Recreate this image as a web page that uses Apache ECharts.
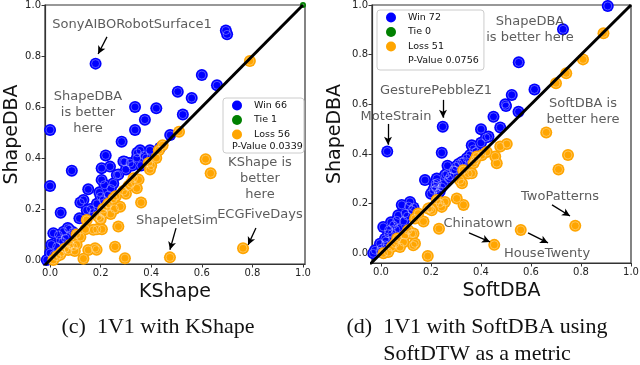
<!DOCTYPE html>
<html>
<head>
<meta charset="utf-8">
<script src="https://cdn.jsdelivr.net/npm/echarts@6/dist/echarts.min.js"></script>
<style>
  html, body { margin: 0; padding: 0; background: #fff; }
  #chart { width: 640px; height: 365px; }
</style>
</head>
<body>
<div id="chart"></div>
<script>
// tick labels shared by all four axes
const tickValues = [0, 0.2, 0.4, 0.6, 0.8, 1.0];

// (c) KShape (x) vs ShapeDBA (y)
const kshapeWin = [
  [0.18, 0.77], [0.695, 0.90], [0.70, 0.885], [0.0, 0.51], [0.0, 0.29], [0.60, 0.725],
  [0.66, 0.685], [0.505, 0.66], [0.56, 0.635], [0.525, 0.57], [0.336, 0.60], [0.42, 0.595],
  [0.375, 0.55], [0.336, 0.51], [0.283, 0.464], [0.475, 0.49], [0.435, 0.44], [0.22, 0.41],
  [0.086, 0.35], [0.204, 0.36], [0.237, 0.366], [0.295, 0.385], [0.356, 0.43], [0.395, 0.43],
  [0.343, 0.40], [0.316, 0.38], [0.37, 0.41], [0.36, 0.37], [0.27, 0.335], [0.29, 0.386],
  [0.264, 0.333], [0.204, 0.314], [0.215, 0.295], [0.151, 0.277], [0.132, 0.235], [0.12, 0.225],
  [0.2, 0.25], [0.21, 0.235], [0.185, 0.22], [0.23, 0.255], [0.16, 0.2], [0.17, 0.185],
  [0.042, 0.185], [0.116, 0.163], [0.07, 0.125], [0.075, 0.12], [0.013, 0.105], [0.033, 0.098],
  [0.053, 0.111], [0.04, 0.078], [0.026, 0.052], [0.0, 0.027], [-0.013, 0.0], [0.05, 0.07],
  [0.06, 0.085], [0.015, 0.02], [0.25, 0.30], [0.24, 0.28], [0.30, 0.355], [0.325, 0.37],
  [0.345, 0.42], [0.38, 0.40], [0.195, 0.265], [0.145, 0.195], [0.09, 0.11], [0.005, 0.06]
];
const kshapeTie = [[1.0, 1.0]];
const kshapeLoss = [
  [0.79, 0.78], [0.51, 0.503], [0.615, 0.395], [0.635, 0.34], [0.763, 0.046], [0.474, 0.01],
  [0.42, 0.40], [0.395, 0.355], [0.39, 0.38], [0.35, 0.315], [0.343, 0.281], [0.36, 0.225],
  [0.29, 0.27], [0.277, 0.209], [0.27, 0.131], [0.257, 0.052], [0.296, 0.007], [0.24, 0.18],
  [0.21, 0.2], [0.2, 0.16], [0.185, 0.12], [0.205, 0.12], [0.224, 0.209], [0.211, 0.183],
  [0.198, 0.163], [0.171, 0.118], [0.184, 0.04], [0.151, 0.039], [0.178, 0.046], [0.132, 0.005],
  [0.092, 0.052], [0.072, 0.039], [0.04, 0.02], [0.026, 0.013], [0.105, 0.06], [0.105, 0.10],
  [0.06, 0.045], [0.145, 0.157], [0.013, 0.0], [0.40, 0.37], [0.43, 0.43], [0.445, 0.45],
  [0.30, 0.26], [0.31, 0.29], [0.32, 0.30], [0.25, 0.24], [0.23, 0.22], [0.26, 0.25],
  [0.12, 0.09], [0.08, 0.06], [0.14, 0.12], [0.045, 0.03], [0.255, 0.20], [0.19, 0.17],
  [0.33, 0.32], [0.098, 0.035]
];

// (d) SoftDBA (x) vs ShapeDBA (y)
const softWin = [
  [0.907, 0.996], [0.728, 0.902], [0.551, 0.769], [0.614, 0.66], [0.523, 0.638], [0.497, 0.60],
  [0.50, 0.593], [0.55, 0.57], [0.025, 0.41], [0.247, 0.51], [0.243, 0.405], [0.45, 0.55],
  [0.477, 0.507], [0.40, 0.50], [0.42, 0.466], [0.363, 0.435], [0.356, 0.396], [0.343, 0.383],
  [0.323, 0.368], [0.266, 0.353], [0.176, 0.295], [0.296, 0.335], [0.256, 0.315], [0.223, 0.301],
  [0.216, 0.281], [0.209, 0.254], [0.229, 0.241], [0.243, 0.267], [0.263, 0.32], [0.276, 0.31],
  [0.29, 0.336], [0.30, 0.35], [0.22, 0.26], [0.215, 0.27], [0.083, 0.195], [0.116, 0.207],
  [0.123, 0.175], [0.096, 0.161], [0.069, 0.153], [0.063, 0.133], [0.05, 0.114], [0.043, 0.08],
  [0.016, 0.034], [-0.004, 0.007], [0.03, 0.094], [0.063, 0.054], [0.009, 0.106], [0.029, 0.079],
  [0.016, 0.059], [-0.004, 0.039], [-0.024, 0.012], [-0.031, 0.0], [0.04, 0.125], [0.06, 0.095],
  [0.11, 0.19], [0.13, 0.185], [0.20, 0.24], [0.235, 0.25], [0.25, 0.28], [0.31, 0.36],
  [0.33, 0.37], [0.37, 0.42], [0.38, 0.41], [0.40, 0.445], [0.43, 0.47], [0.07, 0.10],
  [0.02, 0.05], [0.0, 0.02], [0.09, 0.13], [0.105, 0.15], [0.27, 0.30], [0.225, 0.285]
];
const softTie = [];
const softLoss = [
  [0.89, 0.886], [0.808, 0.781], [0.741, 0.725], [0.70, 0.685], [0.661, 0.487], [0.748, 0.396],
  [0.71, 0.338], [0.777, 0.111], [0.559, 0.094], [0.453, 0.034], [0.187, -0.011], [0.232, 0.099],
  [0.303, 0.221], [0.33, 0.195], [0.324, 0.282], [0.477, 0.43], [0.503, 0.44], [0.457, 0.39],
  [0.463, 0.363], [0.383, 0.39], [0.37, 0.363], [0.363, 0.322], [0.256, 0.207], [0.223, 0.215],
  [0.236, 0.201], [0.196, 0.181], [0.17, 0.128], [0.13, 0.08], [0.136, 0.04], [0.129, 0.032],
  [0.123, 0.079], [0.096, 0.073], [0.109, 0.093], [0.076, 0.025], [0.056, 0.039], [0.043, 0.025],
  [0.029, 0.005], [0.243, 0.187], [0.203, 0.173], [0.189, 0.18], [0.329, 0.335], [0.349, 0.321],
  [0.316, 0.294], [0.376, 0.375], [0.403, 0.395], [0.423, 0.408], [0.149, 0.16], [0.136, 0.14],
  [0.01, 0.0], [0.065, 0.06], [0.09, 0.045]
];

// annotation texts and arrows (data coordinates of each panel)
const kshapeNotes = [
  { name: 'SonyAIBORobotSurface1', value: [0.324, 0.922] },
  { name: 'ShapeDBA\nis better\nhere', value: [0.15, 0.576] },
  { name: 'KShape is\nbetter\nhere', value: [0.83, 0.318] },
  { name: 'ShapeletSim', value: [0.502, 0.153] },
  { name: 'ECGFiveDays', value: [0.83, 0.176] }
];
const kshapeArrows = [
  [[0.225, 0.875], [0.19, 0.808]],
  [[0.498, 0.125], [0.474, 0.04]],
  [[0.814, 0.125], [0.783, 0.059]]
];
const softNotes = [
  { name: 'ShapeDBA\nis better here', value: [0.596, 0.90] },
  { name: 'GesturePebbleZ1', value: [0.22, 0.654] },
  { name: 'MoteStrain', value: [0.06, 0.55] },
  { name: 'SoftDBA is\nbetter here', value: [0.808, 0.57] },
  { name: 'TwoPatterns', value: [0.716, 0.227] },
  { name: 'Chinatown', value: [0.388, 0.118] },
  { name: 'HouseTwenty', value: [0.664, -0.003] }
];
const softArrows = [
  [[0.248, 0.618], [0.248, 0.546]],
  [[0.028, 0.521], [0.028, 0.437]],
  [[0.684, 0.195], [0.756, 0.15]],
  [[0.352, 0.082], [0.436, 0.046]],
  [[0.588, 0.082], [0.668, 0.042]]
];

const BLUE = '#0000ff';
const GREEN = '#008000';
const ORANGE = '#ffa500';
const SANS = 'DejaVu Sans';

function axis(gridIndex, min, max, name, nameGap) {
  return {
    type: 'value', gridIndex, min, max, name,
    nameLocation: 'middle', nameGap,
    nameTextStyle: { fontSize: 19, color: '#111', fontFamily: SANS },
    axisLine: { show: true, onZero: false, lineStyle: { color: '#333', width: 1.2 } },
    axisTick: { show: true, length: 3.5, customValues: tickValues, lineStyle: { color: '#333' } },
    axisLabel: {
      customValues: tickValues, formatter: v => v.toFixed(1),
      fontSize: 10, color: '#222', fontFamily: SANS, margin: 4
    },
    splitLine: { show: false }
  };
}

function points(name, data, color, idx, size) {
  return [
    { name, type: 'scatter', xAxisIndex: idx, yAxisIndex: idx, data, symbolSize: size,
      itemStyle: { color, opacity: 1 }, z: 2 },
    // thin light ring inside each marker
    { type: 'scatter', xAxisIndex: idx, yAxisIndex: idx, data, symbolSize: size - 4, silent: true,
      itemStyle: { color: 'rgba(0,0,0,0)', borderColor: 'rgba(255,255,255,0.5)', borderWidth: 0.8 }, z: 2 }
  ];
}

function diagonal(idx, lo) {
  return { type: 'line', xAxisIndex: idx, yAxisIndex: idx, data: [[lo, lo], [1, 1]],
    symbol: 'none', clip: true, lineStyle: { color: '#000', width: 3 }, z: 5, silent: true };
}

function notes(idx, data, arrows) {
  return {
    type: 'scatter', xAxisIndex: idx, yAxisIndex: idx, data, symbolSize: 1, silent: true,
    itemStyle: { color: 'rgba(0,0,0,0)' }, z: 6,
    label: { show: true, position: 'inside', formatter: '{b}', fontSize: 13, lineHeight: 16,
      color: '#333', fontFamily: SANS, align: 'center' },
    markLine: {
      silent: true, symbol: ['none', 'arrow'], symbolSize: [6, 8], animation: false,
      lineStyle: { color: '#000', width: 1.3, type: 'solid' }, label: { show: false },
      data: arrows.map(a => [{ coord: a[0] }, { coord: a[1] }])
    }
  };
}

function legendBox(names, left, top, padding) {
  return {
    data: names, orient: 'vertical', left, top, padding, itemGap: 1.5,
    itemWidth: 10, itemHeight: 10, icon: 'circle', selectedMode: false,
    textStyle: { fontSize: 9.5, color: '#111', fontFamily: SANS, lineHeight: 13, padding: [0, 0, 0, 7] },
    backgroundColor: 'rgba(255,255,255,0.85)', borderColor: '#ccc', borderWidth: 1, borderRadius: 3
  };
}

const chart = echarts.init(document.getElementById('chart'), null, { renderer: 'canvas' });
chart.setOption({
  animation: false,
  backgroundColor: '#fff',
  grid: [
    { left: 45, top: 5, width: 260, height: 259, show: true, borderColor: '#333', borderWidth: 1.2, outerBoundsMode: 'none' },
    { left: 372, top: 5, width: 259, height: 258, show: true, borderColor: '#333', borderWidth: 1.2, outerBoundsMode: 'none' }
  ],
  xAxis: [axis(0, -0.02, 1.008, 'KShape', 19), axis(1, -0.036, 1.0, 'SoftDBA', 19)],
  yAxis: [axis(0, -0.016, 1.0, 'ShapeDBA', 21), axis(1, -0.039, 1.0, 'ShapeDBA', 27)],
  legend: [
    legendBox(['Win 66', 'Tie 1', 'Loss 56'], 223, 98, [1, 14, 12, 9]),
    legendBox(['Win 72', 'Tie 0', 'Loss 51'], 377, 10, [1, 40, 17, 9])
  ],
  series: [
    ...points('Win 66', kshapeWin, BLUE, 0, 12),
    ...points('Tie 1', kshapeTie, GREEN, 0, 6),
    ...points('Loss 56', kshapeLoss, ORANGE, 0, 12),
    diagonal(0, -0.03),
    notes(0, kshapeNotes, kshapeArrows),
    ...points('Win 72', softWin, BLUE, 1, 12),
    ...points('Tie 0', softTie, GREEN, 1, 12),
    ...points('Loss 51', softLoss, ORANGE, 1, 12),
    diagonal(1, -0.05),
    notes(1, softNotes, softArrows)
  ],
  graphic: [
    { type: 'text', x: 232, y: 147, z: 10,
      style: { text: 'P-Value 0.0339', fontSize: 9.5, fontFamily: SANS, fill: '#111', verticalAlign: 'middle' } },
    { type: 'text', x: 408, y: 61, z: 10,
      style: { text: 'P-Value 0.0756', fontSize: 9.5, fontFamily: SANS, fill: '#111', verticalAlign: 'middle' } },
    { type: 'text', x: 158, y: 327,
      style: { text: '(c)  1V1 with KShape', fontSize: 22, fontFamily: 'Liberation Serif', fill: '#111', align: 'center', verticalAlign: 'middle' } },
    { type: 'text', x: 477, y: 327,
      style: { text: '(d)  1V1 with SoftDBA using', fontSize: 22, fontFamily: 'Liberation Serif', fill: '#111', align: 'center', verticalAlign: 'middle' } },
    { type: 'text', x: 477, y: 354,
      style: { text: 'SoftDTW as a metric', fontSize: 22, fontFamily: 'Liberation Serif', fill: '#111', align: 'center', verticalAlign: 'middle' } }
  ]
});
</script>
</body>
</html>
